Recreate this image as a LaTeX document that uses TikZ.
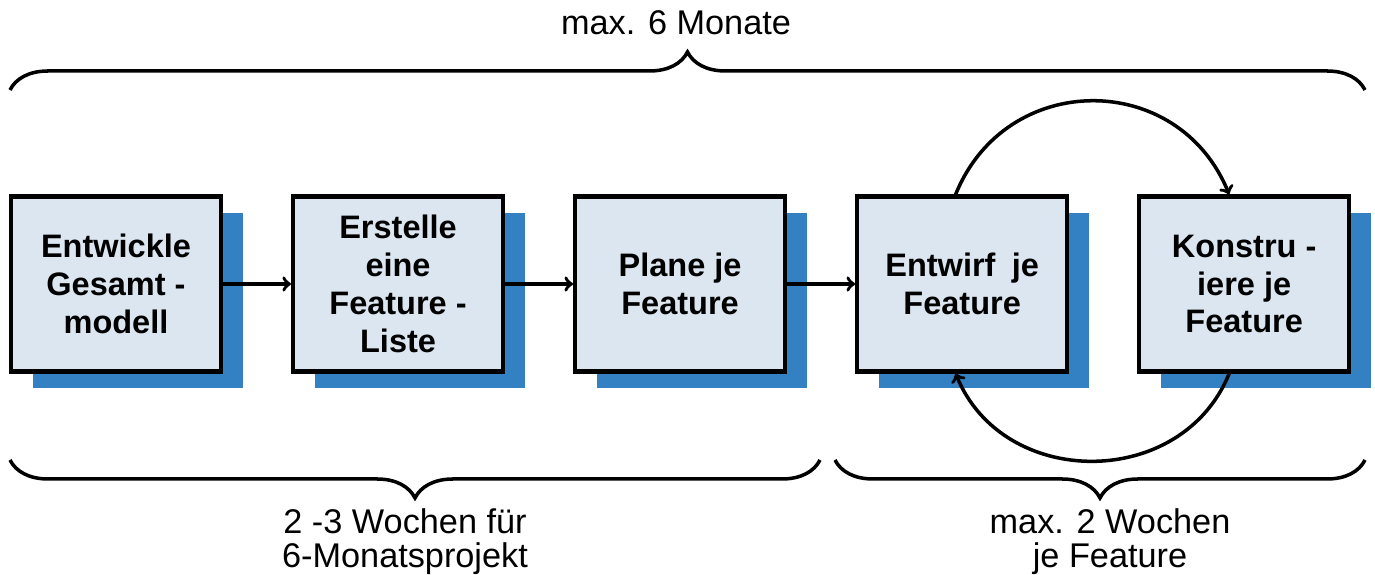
\documentclass[tikz,border=0pt]{standalone}
\usepackage{fontspec}
\setmainfont{Liberation Sans}
\usetikzlibrary{positioning,shadows,decorations.pathreplacing}
\definecolor{boxfill}{RGB}{220,230,240}
\definecolor{boxblue}{RGB}{51,128,195}
\tikzset{
	fddbox/.style={draw=black,line width=2.3pt,fill=boxfill,minimum width=4.2cm,minimum height=3.5cm,
		align=center,font=\bfseries\fontsize{18.5}{21.5}\selectfont,
		drop shadow={shadow xshift=0.44cm,shadow yshift=-0.34cm,fill=boxblue,opacity=1}},
	fddbrace/.style={decorate,decoration={brace,amplitude=0.76cm},line width=2pt},
	fddlabel/.style={align=center,font=\fontsize{19.5}{19.5}\selectfont}
}
\begin{document}
\begin{tikzpicture}[>=to,node distance=1.36cm]
	\useasboundingbox (0,0) rectangle (27.5,11.5);
	\node[fddbox] (n1) at (2.32,5.82) {Entwickle\\Gesamt -\\modell};
	\node[fddbox,right=of n1] (n2) {Erstelle\\eine\\Feature -\\Liste};
	\node[fddbox,right=of n2] (n3) {Plane je\\Feature};
	\node[fddbox,right=of n3] (n4) {Entwirf\enspace je\\Feature};
	\node[fddbox,right=of n4] (n5) {Konstru -\\iere je\\Feature};
	\foreach \a/\b in {n1/n2,n2/n3,n3/n4}\draw[->,line width=2pt] (\a) -- (\b);
	\draw[->,line width=2pt] ([xshift=-0.13cm]n4.north) to[out=68,in=112,looseness=1.26] ([xshift=-0.3cm]n5.north);
	\draw[->,line width=2pt] ([xshift=-0.3cm]n5.south) to[out=-112,in=-68,looseness=1.18] ([xshift=-0.13cm]n4.south);
	% braces
	\coordinate (tl) at (0.2,9.7);
	\coordinate (tr) at (27.3,9.7);
	\coordinate (bl) at (0.2,2.3);
	\coordinate (bm) at (16.4,2.3);
	\coordinate (bn) at (16.7,2.3);
	\coordinate (br) at (27.3,2.3);
	\draw[fddbrace] (tl) -- (tr);
	\draw[fddbrace] (bm) -- (bl);
	\draw[fddbrace] (br) -- (bn);
	\node[fddlabel] (lmax) at (13.52,11.04) {max. 6 Monate};
	\node[fddlabel] (lwoch) at (8.1,0.66) {2 -3 Wochen für\\6-Monatsprojekt};
	\node[fddlabel] (lfeat) at (22.2,0.66) {max. 2 Wochen\\je Feature};
\end{tikzpicture}
\end{document}
